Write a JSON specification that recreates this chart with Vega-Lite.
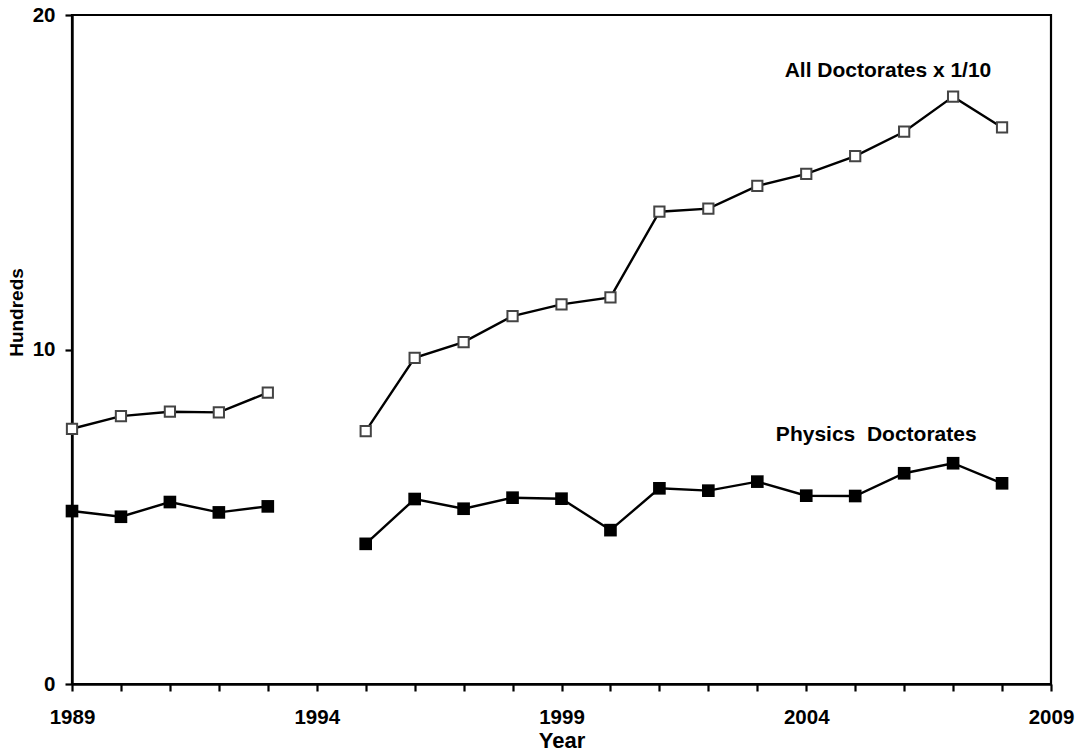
{
  "$schema": "https://vega.github.io/schema/vega-lite/v6.json",
  "width": 979,
  "height": 669,
  "autosize": {"type": "none"},
  "padding": {"left": 72, "top": 15, "right": 26, "bottom": 71},
  "background": "white",
  "config": {
    "font": "Liberation Sans",
    "view": {"stroke": "black", "strokeWidth": 2.2},
    "axis": {
      "grid": false,
      "domainColor": "black",
      "domainWidth": 2.4,
      "tickColor": "black",
      "tickWidth": 2.2,
      "tickSize": 7,
      "labelFont": "Liberation Sans",
      "labelFontWeight": "bold",
      "labelFontSize": 20.5,
      "labelColor": "black",
      "titleFont": "Liberation Sans",
      "titleFontWeight": "bold",
      "titleFontSize": 20.5,
      "titleColor": "black"
    }
  },
  "data": {
    "values": [
      {"year": 1989, "series": "All", "seg": "a", "value": 7.63},
      {"year": 1990, "series": "All", "seg": "a", "value": 8.01},
      {"year": 1991, "series": "All", "seg": "a", "value": 8.14},
      {"year": 1992, "series": "All", "seg": "a", "value": 8.12},
      {"year": 1993, "series": "All", "seg": "a", "value": 8.71},
      {"year": 1995, "series": "All", "seg": "b", "value": 7.56},
      {"year": 1996, "series": "All", "seg": "b", "value": 9.75},
      {"year": 1997, "series": "All", "seg": "b", "value": 10.22},
      {"year": 1998, "series": "All", "seg": "b", "value": 11.0},
      {"year": 1999, "series": "All", "seg": "b", "value": 11.35},
      {"year": 2000, "series": "All", "seg": "b", "value": 11.56},
      {"year": 2001, "series": "All", "seg": "b", "value": 14.12},
      {"year": 2002, "series": "All", "seg": "b", "value": 14.21},
      {"year": 2003, "series": "All", "seg": "b", "value": 14.89},
      {"year": 2004, "series": "All", "seg": "b", "value": 15.25},
      {"year": 2005, "series": "All", "seg": "b", "value": 15.78},
      {"year": 2006, "series": "All", "seg": "b", "value": 16.51},
      {"year": 2007, "series": "All", "seg": "b", "value": 17.56},
      {"year": 2008, "series": "All", "seg": "b", "value": 16.64},
      {"year": 1989, "series": "Physics", "seg": "a", "value": 5.17},
      {"year": 1990, "series": "Physics", "seg": "a", "value": 5.0},
      {"year": 1991, "series": "Physics", "seg": "a", "value": 5.44},
      {"year": 1992, "series": "Physics", "seg": "a", "value": 5.13},
      {"year": 1993, "series": "Physics", "seg": "a", "value": 5.31},
      {"year": 1995, "series": "Physics", "seg": "b", "value": 4.19},
      {"year": 1996, "series": "Physics", "seg": "b", "value": 5.53},
      {"year": 1997, "series": "Physics", "seg": "b", "value": 5.24},
      {"year": 1998, "series": "Physics", "seg": "b", "value": 5.57},
      {"year": 1999, "series": "Physics", "seg": "b", "value": 5.54},
      {"year": 2000, "series": "Physics", "seg": "b", "value": 4.6},
      {"year": 2001, "series": "Physics", "seg": "b", "value": 5.85},
      {"year": 2002, "series": "Physics", "seg": "b", "value": 5.78},
      {"year": 2003, "series": "Physics", "seg": "b", "value": 6.05},
      {"year": 2004, "series": "Physics", "seg": "b", "value": 5.63},
      {"year": 2005, "series": "Physics", "seg": "b", "value": 5.62},
      {"year": 2006, "series": "Physics", "seg": "b", "value": 6.3},
      {"year": 2007, "series": "Physics", "seg": "b", "value": 6.6},
      {"year": 2008, "series": "Physics", "seg": "b", "value": 6.0}
    ]
  },
  "encoding": {
    "x": {
      "field": "year",
      "type": "quantitative",
      "scale": {"domain": [1989, 2009], "nice": false, "zero": false},
      "axis": {
        "title": "Year",
        "values": [1989,1990,1991,1992,1993,1994,1995,1996,1997,1998,1999,2000,2001,2002,2003,2004,2005,2006,2007,2008,2009],
        "format": "d",
        "labelExpr": "(datum.value - 1989) % 5 == 0 ? datum.label : ''",
        "labelPadding": 16,
        "labelFlush": false,
        "labelOverlap": false,
        "labelBound": false,
        "titleY": 63,
        "titleFontSize": 22,
        "titleBaseline": "alphabetic"
      }
    },
    "y": {
      "field": "value",
      "type": "quantitative",
      "scale": {"domain": [0, 20], "nice": false},
      "axis": {
        "title": "Hundreds",
        "values": [0, 10, 20],
        "labelPadding": 10,
        "titleAngle": -90,
        "titleX": -50,
        "titleY": 297,
        "titleFontSize": 19,
        "titleAlign": "center",
        "titleBaseline": "alphabetic"
      }
    }
  },
  "layer": [
    {
      "mark": {"type": "line", "color": "black", "strokeWidth": 2.4},
      "encoding": {
        "detail": [{"field": "series"}, {"field": "seg"}]
      }
    },
    {
      "transform": [{"filter": "datum.series == 'All'"}],
      "mark": {"type": "point", "shape": "square", "filled": true, "fill": "white", "stroke": "#444444", "strokeWidth": 2, "size": 105, "opacity": 1}
    },
    {
      "transform": [{"filter": "datum.series == 'Physics'"}],
      "mark": {"type": "point", "shape": "square", "filled": true, "fill": "black", "stroke": "black", "strokeWidth": 0, "size": 160, "opacity": 1}
    },
    {
      "data": {
        "values": [
          {"year": 2005.67, "value": 18.16, "label": "All Doctorates x 1/10"},
          {"year": 2005.43, "value": 7.26, "label": "Physics\u00a0 Doctorates"}
        ]
      },
      "mark": {"type": "text", "font": "Liberation Sans", "fontWeight": "bold", "fontSize": 21, "align": "center", "baseline": "alphabetic", "color": "black"},
      "encoding": {
        "text": {"field": "label"}
      }
    }
  ]
}
